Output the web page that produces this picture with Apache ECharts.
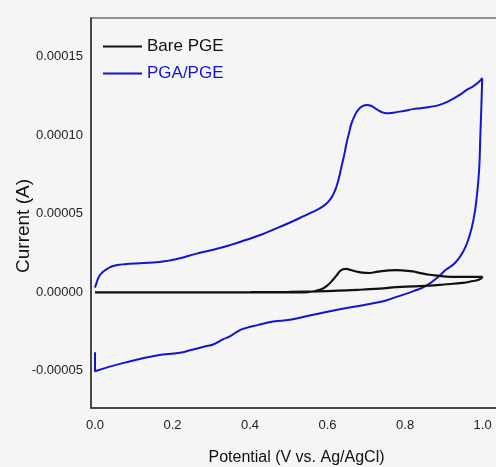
<!DOCTYPE html>
<html>
<head>
<meta charset="utf-8">
<script src="https://cdn.jsdelivr.net/npm/echarts@6/dist/echarts.min.js"></script>
<style>
html,body{margin:0;padding:0;background:#f5f5f5;}
#chart{width:496px;height:467px;}
</style>
</head>
<body>
<div id="chart"></div>
<script>
// ---- data ----
const seriesNames = ["Bare PGE", "PGA/PGE"];
const xTicks = [0.0, 0.2, 0.4, 0.6, 0.8, 1.0];
const yTicks = [-0.00005, 0.0, 0.00005, 0.00010, 0.00015];

// PGA/PGE (blue) : forward scan then reverse scan (potential V, current in 1e-5 A)
const pgaV = [0.000, 0.004, 0.010, 0.020, 0.032, 0.047, 0.070, 0.090, 0.125, 0.159, 0.190, 0.219, 0.260, 0.305, 0.350, 0.391, 0.430, 0.460, 0.490, 0.528, 0.560, 0.588, 0.606, 0.615, 0.623, 0.630, 0.636, 0.643, 0.649, 0.656, 0.662, 0.670, 0.679, 0.690, 0.702, 0.714, 0.726, 0.739, 0.752, 0.765, 0.778, 0.800, 0.820, 0.840, 0.863, 0.889, 0.915, 0.941, 0.960, 0.975, 0.990, 0.999,
              0.997, 0.994, 0.991, 0.985, 0.977, 0.965, 0.950, 0.930, 0.906, 0.885, 0.855, 0.820, 0.778, 0.735, 0.649, 0.563, 0.503, 0.460, 0.417, 0.391, 0.374, 0.348, 0.331, 0.305, 0.288, 0.245, 0.219, 0.159, 0.074, 0.000, 0.000];
const pgaI = [0.30, 0.60, 1.00, 1.30, 1.50, 1.68, 1.78, 1.82, 1.87, 1.91, 2.02, 2.17, 2.45, 2.71, 3.02, 3.35, 3.68, 3.99, 4.30, 4.73, 5.10, 5.47, 5.89, 6.25, 6.74, 7.35, 8.01, 8.75, 9.50, 10.20, 10.77, 11.25, 11.61, 11.85, 11.93, 11.85, 11.66, 11.48, 11.40, 11.42, 11.47, 11.56, 11.66, 11.72, 11.80, 11.93, 12.20, 12.57, 12.90, 13.10, 13.38, 13.63,
              12.00, 9.90, 7.80, 6.10, 4.70, 3.50, 2.60, 1.90, 1.45, 0.98, 0.43, 0.06, -0.29, -0.62, -0.99, -1.42, -1.74, -1.86, -2.10, -2.26, -2.40, -2.80, -2.98, -3.32, -3.42, -3.69, -3.85, -4.02, -4.49, -5.02, -3.81];

// Bare PGE (black)
const bareV = [0.000, 0.100, 0.200, 0.300, 0.400, 0.500, 0.550, 0.584, 0.600, 0.614, 0.624, 0.631, 0.640, 0.649, 0.660, 0.674, 0.690, 0.709, 0.730, 0.752, 0.778, 0.800, 0.820, 0.840, 0.863, 0.885, 0.906, 0.930, 0.949, 0.975, 1.000,
               0.990, 0.975, 0.949, 0.900, 0.863, 0.820, 0.778, 0.735, 0.692, 0.650, 0.600, 0.500, 0.400, 0.200, 0.000];
const bareI = [0.00, 0.00, 0.00, 0.00, 0.00, 0.00, 0.02, 0.20, 0.45, 0.80, 1.10, 1.33, 1.47, 1.50, 1.42, 1.33, 1.25, 1.23, 1.32, 1.38, 1.42, 1.38, 1.33, 1.22, 1.12, 1.06, 1.00, 0.98, 0.98, 0.98, 0.98,
               0.80, 0.72, 0.60, 0.50, 0.43, 0.38, 0.33, 0.24, 0.18, 0.12, 0.08, 0.03, 0.01, 0.00, 0.00];

function pairs(vs, is) { return vs.map((v, k) => [v, is[k] * 1e-5]); }

const chart = echarts.init(document.getElementById('chart'), null, {renderer: 'canvas'});
const font = 'Liberation Sans, Arial, sans-serif';
chart.setOption({
  backgroundColor: '#f5f5f5',
  animation: false,
  textStyle: {fontFamily: font},
  grid: {left: 91, top: 18, right: -6, bottom: 59, outerBoundsMode: 'none', containLabel: false,
         show: true, borderColor: '#333', borderWidth: 1.2, backgroundColor: 'transparent'},
  legend: {
    orient: 'vertical', left: 103, top: 38, padding: 0, itemWidth: 39, itemHeight: 2, itemGap: 10, icon: 'rect',
    textStyle: {fontSize: 17, fontFamily: font},
    data: [
      {name: seriesNames[0], textStyle: {color: '#111'}},
      {name: seriesNames[1], textStyle: {color: '#1414d2'}}
    ]
  },
  xAxis: {
    type: 'value', min: -0.0103, max: 1.05,
    name: 'Potential (V vs. Ag/AgCl)', nameLocation: 'middle', nameGap: 42, nameMoveOverlap: false,
    nameTextStyle: {fontSize: 16, color: '#111', fontFamily: font},
    axisLine: {show: true, onZero: false, lineStyle: {color: '#333', width: 1.5}},
    axisTick: {show: false},
    splitLine: {show: false},
    axisLabel: {customValues: xTicks, formatter: v => v.toFixed(1), fontSize: 13, color: '#222', margin: 11, fontFamily: font}
  },
  yAxis: {
    type: 'value', min: -0.0000736, max: 0.0001746,
    name: 'Current (A)', nameLocation: 'middle', nameGap: 58, nameRotate: 90, nameMoveOverlap: false,
    nameTextStyle: {fontSize: 19, color: '#111', fontFamily: font, padding: [0, 26, 0, 0]},
    axisLine: {show: true, onZero: false, lineStyle: {color: '#333', width: 1.5}},
    axisTick: {show: false},
    splitLine: {show: false},
    axisLabel: {customValues: yTicks, formatter: v => v.toFixed(5), fontSize: 13, color: '#222', margin: 8, fontFamily: font}
  },
  series: [
    {name: seriesNames[0], type: 'line', data: pairs(bareV, bareI), showSymbol: false, smooth: 0.4,
     lineStyle: {color: '#111', width: 2.2}, itemStyle: {color: '#111'}, z: 3},
    {name: seriesNames[1], type: 'line', data: pairs(pgaV, pgaI), showSymbol: false, smooth: 0.5,
     lineStyle: {color: '#1414d2', width: 2}, itemStyle: {color: '#1414d2'}, z: 2}
  ]
});
</script>
</body>
</html>
